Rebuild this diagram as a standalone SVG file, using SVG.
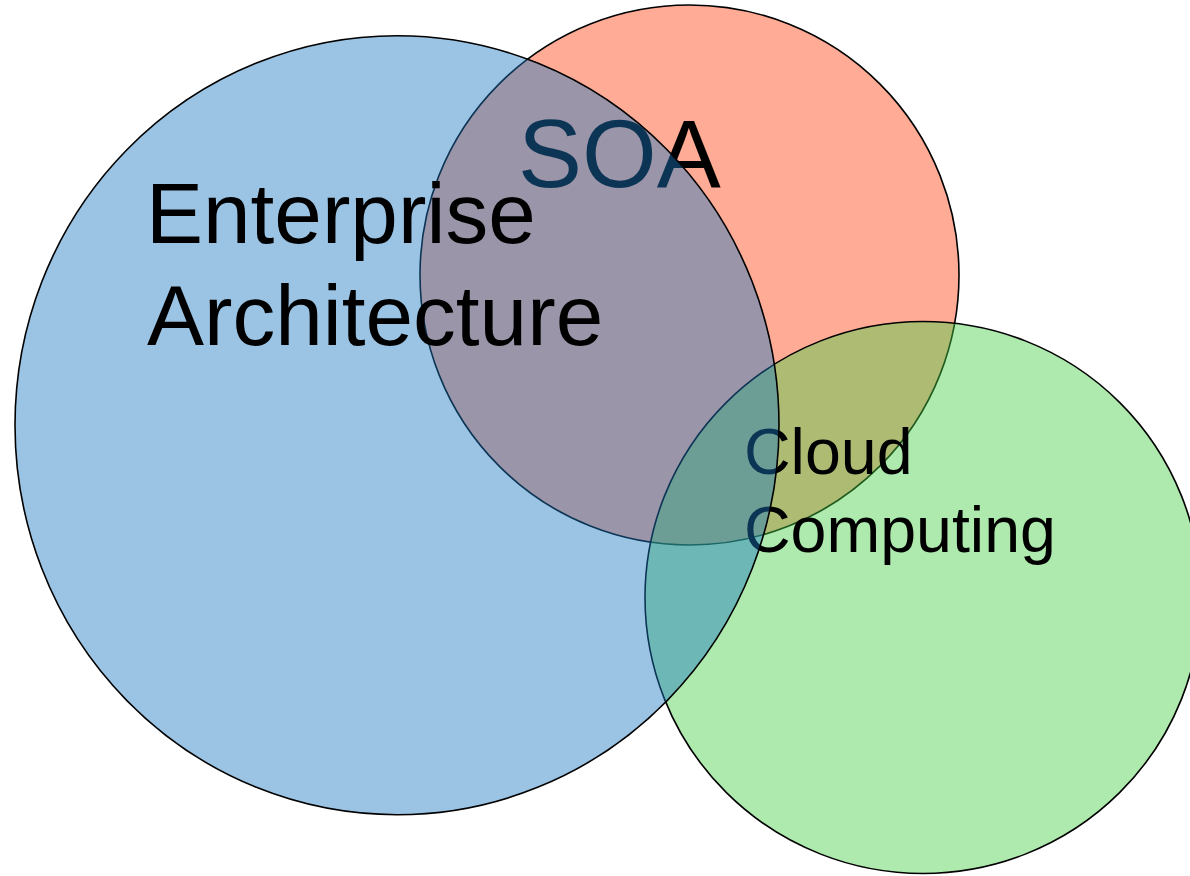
<svg xmlns="http://www.w3.org/2000/svg" width="1190" height="876" viewBox="0 0 1190 876">
  <style>
    .c { stroke: #000; stroke-width: 1.6; fill-opacity: 0.44; }
    .t { font-family: "Liberation Sans", Arial, sans-serif; fill: #000; }
  </style>
  <rect width="1190" height="876" fill="#fff"/>
  <g id="soa">
    <ellipse class="c" cx="689.5" cy="275" rx="269.5" ry="270" fill="#ff4010"/>
  </g>
  <g id="cloud">
    <ellipse class="c" cx="923" cy="597.5" rx="278" ry="276" fill="#47cf47"/>
  </g>
  <g id="labels-under">
    <text class="t" x="518" y="187" font-size="96">SOA</text>
    <text class="t" font-size="64.5"><tspan x="744" y="474">Cloud</tspan><tspan x="744" y="552">Computing</tspan></text>
  </g>
  <g id="ea">
    <ellipse class="c" cx="397" cy="425.2" rx="382" ry="389.5" fill="#1c79c2"/>
    <text class="t" font-size="85.5"><tspan x="146" y="243">Enterprise</tspan><tspan x="147" y="345">Architecture</tspan></text>
  </g>
  <g id="connectors"/>
</svg>
